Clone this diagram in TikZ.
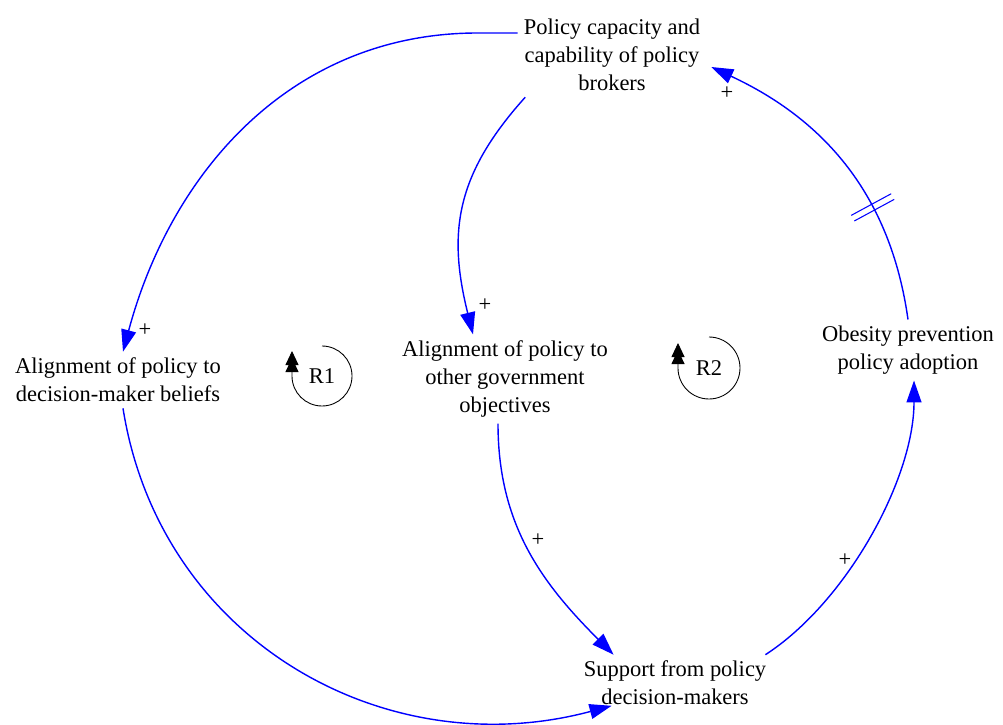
\documentclass[tikz,border=0pt]{standalone}
\usepackage{fontspec}
\setmainfont{Liberation Serif}
\usetikzlibrary{arrows.meta}
\usetikzlibrary{shapes.geometric, arrows, positioning}
\definecolor{linkblue}{RGB}{0, 0, 255}

\begin{document}
\begin{tikzpicture}[every node/.style={font=\fontsize{12.8}{16}\selectfont, align=center},
    link/.style={linkblue, line width=0.8pt, -{Triangle[length=0.44cm, width=0.3cm]}},
    sign/.style={inner sep=0pt},
    loopline/.style={black, line width=0.5pt, -{Triangle[length=0.28cm, width=0.26cm, sep=-0.14cm] Triangle[length=0.28cm, width=0.26cm]}},
    delaymark/.style={linkblue, line width=0.6pt}]

        % Marco
        \useasboundingbox (0,0) rectangle (20.06,14.48);

        % --- VARIABLES ---
        \node (capacity) at (12.24,13.38) {Policy capacity and\\capability of policy\\brokers};
        \node (beliefs) at (2.36,6.88) {Alignment of policy to\\decision-maker beliefs};
        \node (objectives) at (10.1,6.9) {Alignment of policy to\\other government\\objectives};
        \node (adoption) at (18.16,7.48) {Obesity prevention\\policy adoption};
        \node (support) at (13.5,0.82) {Support from policy\\decision-makers};

        % --- ENLACES ---

        % capacity -> beliefs
        \draw[link] ([yshift=0.44cm]capacity.west) -- ++(-0.8,0) to[out=180, in=75] ([xshift=0.1cm]beliefs.north);
        \node[sign] (s1) at (2.9,7.88) {+};

        % capacity -> objectives
        \draw[link] ([xshift=0.15cm]capacity.south west) to[out=228, in=104, looseness=1.1] ([xshift=-0.64cm]objectives.north);
        \node[sign] (s2) at (9.7,8.38) {+};

        % objectives -> support
        \draw[link] ([xshift=-0.14cm]objectives.south) to[out=-90, in=135] ([xshift=0.72cm]support.north west);
        \node[sign] (s3) at (10.76,3.68) {+};

        % beliefs -> support
        \draw[link] ([xshift=0.1cm]beliefs.south) to[out=-81, in=195, looseness=1.05] ([xshift=0.68cm, yshift=0.11cm]support.south west);

        % support -> adoption
        \draw[link] ([xshift=-0.14cm]support.north east) to[out=33, in=-90, looseness=0.8] ([xshift=0.12cm]adoption.south);
        \node[sign] (s4) at (16.9,3.28) {+};

        % adoption -> capacity (con retraso)
        \draw[link] (adoption.north) to[out=98, in=-25] node[sloped, pos=0.345, minimum width=0.1cm, minimum height=0.88cm, inner sep=0pt] (delay) {} ([xshift=0.1cm, yshift=-0.24cm]capacity.east);
        \draw[delaymark] (delay.north west) -- (delay.south west) (delay.north east) -- (delay.south east);
        \node[sign] (s5) at (14.54,12.62) {+};

        % --- BUCLES ---
        \node (r1) at (6.44,6.96) {R1};
        \draw[loopline] ([yshift=0.6cm]r1.center) arc (90:-180:0.6cm) -- ++(0,0.5);

        \node (r2) at (14.18,7.12) {R2};
        \draw[loopline] ([yshift=0.62cm]r2.center) arc (90:-180:0.62cm) -- ++(0,0.5);

    \end{tikzpicture}
\end{document}
